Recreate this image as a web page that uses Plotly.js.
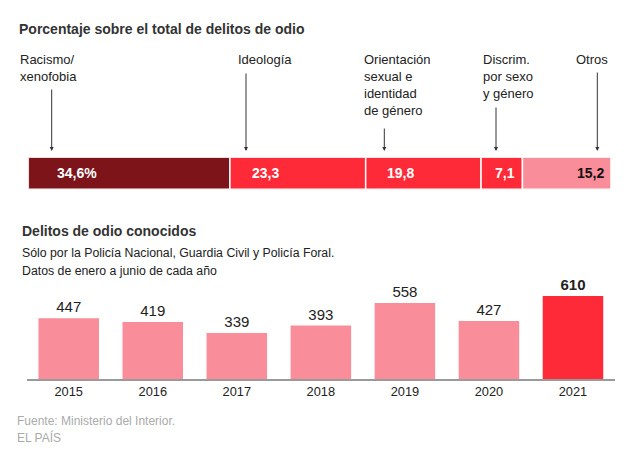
<!DOCTYPE html>
<html>
<head>
<meta charset="utf-8">
<script src="https://cdn.plot.ly/plotly-3.0.1.min.js"></script>
<style>html,body{margin:0;padding:0;background:#fff}#chart{width:640px;height:449px}</style>
</head>
<body>
<div id="chart"></div>
<script>
// ---- Data ----
var shareCategories = ["Racismo/<br>xenofobia", "Ideología", "Orientación<br>sexual e<br>identidad<br>de género", "Discrim.<br>por sexo<br>y género", "Otros"];
var shareValues = [34.6, 23.3, 19.8, 7.1, 15.2];
var shareColors = ["#7c141a", "#fe2a37", "#fe2a37", "#fe2a37", "#f98d99"];
var shareTextColors = ["#ffffff", "#ffffff", "#ffffff", "#ffffff", "#111111"];

var years = ["2015", "2016", "2017", "2018", "2019", "2020", "2021"];
var crimes = [447, 419, 339, 393, 558, 427, 610];
var crimeColors = ["#f98d99", "#f98d99", "#f98d99", "#f98d99", "#f98d99", "#f98d99", "#fe2a37"];

var W = 640, H = 449;
var FONT = "Liberation Sans, Arial, sans-serif";
function py(p) { return 1 - p / H; }
function px(p) { return p / W; }

var traces = [];
var cum = 0;
var starts = [];
shareValues.forEach(function (v, i) {
  starts.push(cum);
  traces.push({
    type: "bar", orientation: "h",
    x: [v], y: [0], base: [cum],
    width: 1,
    marker: {color: shareColors[i], line: {color: "#ffffff", width: 1.5}},
    hoverinfo: "skip", showlegend: false,
    xaxis: "x", yaxis: "y"
  });
  cum += v;
});

traces.push({
  type: "bar",
  x: years, y: crimes,
  marker: {color: crimeColors, line: {width: 0}},
  width: 0.72,
  text: crimes.map(function (v, i) { return i === crimes.length - 1 ? "<b>" + v + "</b>" : String(v); }),
  textposition: "outside",
  textfont: {family: FONT, size: 15, color: "#222"},
  cliponaxis: false,
  hoverinfo: "skip", showlegend: false,
  xaxis: "x2", yaxis: "y2"
});

var ann = [];
function txt(t, x, y, size, opts) {
  var a = Object.assign({
    text: t, x: x, y: y, xref: "paper", yref: "paper",
    xanchor: "left", yanchor: "middle", showarrow: false,
    align: "left", borderpad: 0,
    font: {family: FONT, size: size, color: "#222"}
  }, opts || {});
  ann.push(a);
}

// Titles
txt("<b>Porcentaje sobre el total de delitos de odio</b>", px(17.5), py(28.6), 14, {font: {family: FONT, size: 14, color: "#333"}});
txt("<b>Delitos de odio conocidos</b>", px(21), py(230.8), 14, {font: {family: FONT, size: 14, color: "#333"}});
txt("Sólo por la Policía Nacional, Guardia Civil y Policía Foral.", px(21), py(252.6), 12.3);
txt("Datos de enero a junio de cada año", px(21), py(270.6), 12.3);
txt("Fuente: Ministerio del Interior.", px(16), py(420.8), 12, {font: {family: FONT, size: 12, color: "#aaaaaa"}});
txt("EL PAÍS", px(16), py(437.5), 12, {font: {family: FONT, size: 12, color: "#aaaaaa"}});

// Category labels above the bar
var labelX = [19, 237, 363, 481.5, 575];
shareCategories.forEach(function (c, i) {
  txt(c, px(labelX[i]), py(50.5), 13, {yanchor: "top"});
});

// Arrows
var arrowX = [51.7, 246, 384.3, 496, 597.3];
var arrowLen = [63, 79, 24, 45, 80];
arrowX.forEach(function (ax, i) {
  ann.push({
    text: "", x: px(ax), y: py(151), xref: "paper", yref: "paper",
    showarrow: true, ax: 0, ay: -arrowLen[i], axref: "pixel", ayref: "pixel",
    arrowhead: 2, arrowsize: 0.8, arrowwidth: 1, arrowcolor: "#333", standoff: 0
  });
});

// Value labels inside the share bar
var labelShift = [27.5, 21.3, 20, 13.3];
shareValues.forEach(function (v, i) {
  var s = v.toFixed(1).replace(".", ",") + (i === 0 ? "%" : "");
  var isLast = i === shareValues.length - 1;
  ann.push({
    text: "<b>" + s + "</b>",
    x: isLast ? starts[i] + v : starts[i], y: 0, xref: "x", yref: "y",
    xanchor: isLast ? "right" : "left", yanchor: "middle",
    xshift: isLast ? -6 : labelShift[i],
    showarrow: false, borderpad: 0,
    font: {family: FONT, size: 14, color: shareTextColors[i]}
  });
});

var layout = {
  width: W, height: H,
  margin: {l: 0, r: 0, t: 0, b: 0},
  paper_bgcolor: "#ffffff", plot_bgcolor: "#ffffff",
  barmode: "overlay",
  showlegend: false,
  font: {family: FONT, color: "#222"},
  xaxis: {domain: [px(28.3), px(611)], range: [0, 100], visible: false, fixedrange: true},
  yaxis: {domain: [py(189.3), py(157.3)], range: [-0.5, 0.5], visible: false, fixedrange: true},
  xaxis2: {
    domain: [px(26.7), px(615)], range: [-0.5, 6.5], type: "category",
    anchor: "y2", showline: true, linecolor: "#9a9a9a", linewidth: 1.5,
    showgrid: false, zeroline: false, ticks: "",
    tickfont: {family: FONT, size: 12.8, color: "#222"},
    fixedrange: true
  },
  yaxis2: {
    domain: [py(379.3), py(280)], range: [0, 727], anchor: "x2",
    visible: false, fixedrange: true
  },
  annotations: ann
};

Plotly.newPlot("chart", traces, layout, {displayModeBar: false, staticPlot: true});
</script>
</body>
</html>
